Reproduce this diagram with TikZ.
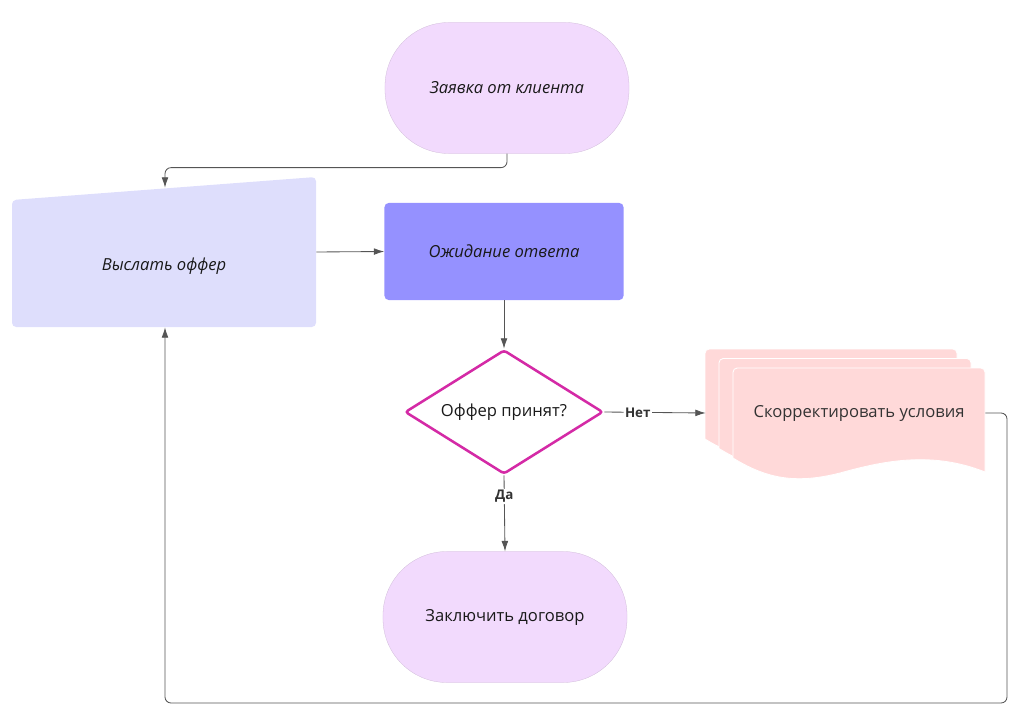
\documentclass[tikz,border=0pt]{standalone}
\usepackage{fontspec}
\setmainfont{Open Sans}
\usetikzlibrary{shapes.geometric, arrows.meta, calc}

\definecolor{TermPink}{HTML}{F2DAFD}
\definecolor{InputLilac}{HTML}{DEDEFC}
\definecolor{WaitViolet}{HTML}{9591FF}
\definecolor{DocRose}{HTML}{FFD9D9}
\definecolor{DecisionMagenta}{HTML}{D42AA6}
\definecolor{LineGray}{HTML}{555555}

\begin{document}
\begin{tikzpicture}[x=0.025cm, y=-0.025cm,
    every node/.style={font=\fontsize{11.8}{14}\selectfont, text=black!90},
    terminal/.style={fill=TermPink, draw=TermPink!85!black, line width=0.2pt, minimum width=6.1cm, minimum height=3.275cm, rounded corners=1.6cm},
    conn/.style={draw=LineGray, line width=0.6pt, rounded corners=0.15cm, -{Latex[length=2.6mm,width=1.7mm]}},
    lbl/.style={fill=white, font=\fontsize{9.5}{11}\selectfont\bfseries, text=black!80, inner sep=1pt}]
    \useasboundingbox (0,0) rectangle (1024,728);

    % Start
    \node[terminal] (start) at (507,88) {\itshape Заявка от клиента};

    % Send offer (manual input)
    \fill[InputLilac, rounded corners=3pt] (12,200) -- (12,327) -- (316,327) -- (316,177) -- cycle;
    \node[minimum width=7.6cm, minimum height=3.75cm, text height=0.98cm, text depth=0.08cm] (offer) at (164,252) {\itshape Выслать оффер};

    % Waiting
    \node[fill=WaitViolet, rounded corners=3pt, minimum width=5.975cm, minimum height=2.425cm] (wait) at (504,251.5) {\itshape Ожидание ответа};

    % Decision
    \node[diamond, aspect=1.6, draw=DecisionMagenta, line width=1.8pt, fill=white, rounded corners=2pt, inner sep=0pt, minimum width=4.95cm, minimum height=3.1cm] (decision) at (504,412) {Оффер принят?};

    % Adjust terms (multi-document)
    \foreach \s in {2,1,0} {
        \begin{scope}[shift={(-14*\s,-9.5*\s)}]
            \filldraw[fill=DocRose, draw=white, line width=0.6pt]
                (733,458) {[rounded corners=3pt] -- (733,368) -- (985,368)} -- (985,472)
                .. controls (930,450) and (880,462) .. (840,473)
                .. controls (800,483) and (770,481) .. (733,458) -- cycle;
        \end{scope}
    }
    \node[minimum width=6.3cm, minimum height=2.25cm, text=black!80] (doc) at (859,413) {Скорректировать условия};

    % End
    \node[terminal] (finish) at (505,617) {Заключить договор};

    % Arrows
    \coordinate (loop) at (1007,703);
    \draw[conn] (start.south) -- ++(0,14) -| ($(offer.north)+(1,11)$);
    \draw[conn] (offer.east) -- (wait.west);
    \draw[conn] (wait.south) -- (decision.north);
    \draw[conn] (decision.east) -- node[lbl, pos=0.33] {Нет} ($(doc.west)+(-27,0)$);
    \draw[conn] (decision.south) -- node[lbl, pos=0.28] {Да} (finish.north);
    \draw[conn] (doc.east) -| (loop) -| ($(offer.south)+(1,0)$);
\end{tikzpicture}
\end{document}
